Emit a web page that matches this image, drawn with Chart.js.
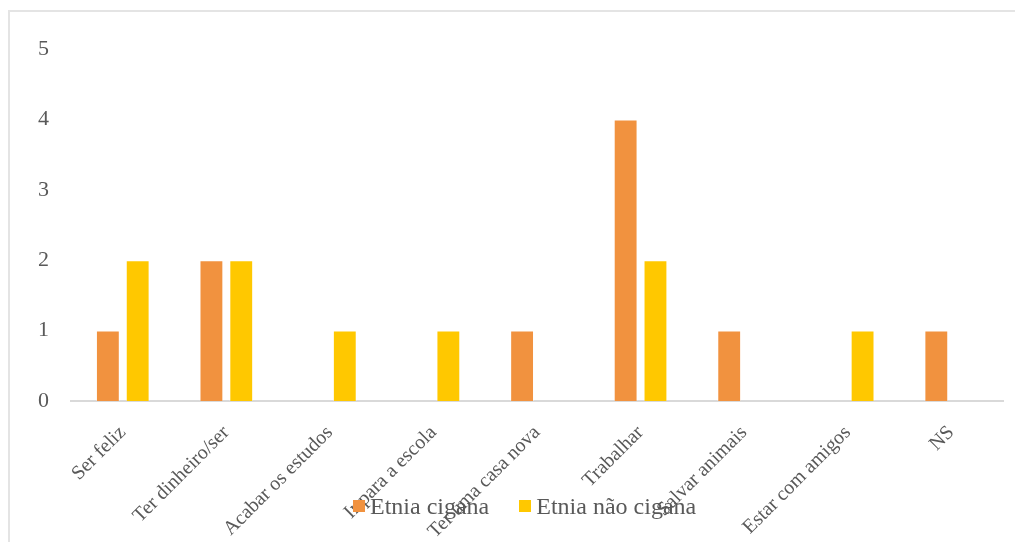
<!DOCTYPE html>
<html>
<head>
<meta charset="utf-8">
<script src="https://cdn.jsdelivr.net/npm/chart.js@4/dist/chart.umd.min.js"></script>
<style>
  body { margin: 0; background: #fff; }
  #wrap { position: relative; width: 1015px; height: 542px; overflow: hidden; }
  #frame {
    position: absolute; left: 8px; top: 10px; width: 1100px; height: 600px;
    border-top: 2px solid #e4e4e4; border-left: 2px solid #e4e4e4;
  }
  #chart { position: absolute; left: 0; top: 0; }
  #legend {
    position: absolute; left: 353px; top: 492px;
    display: flex; align-items: center;
    font-family: "Liberation Serif", "Times New Roman", serif;
    font-size: 24px; color: #595959; line-height: 28px;
  }
  .item { display: flex; align-items: center; margin-right: 30px; }
  .box { width: 12px; height: 12px; margin-right: 5px; }
</style>
</head>
<body>
<div id="wrap">
  <div id="frame"></div>
  <canvas id="chart" width="1015" height="542"></canvas>
  <div id="legend"></div>
</div>
<script>
// categories and values
const categories = [
  "Ser feliz", "Ter dinheiro/ser", "Acabar os estudos", "Ir para a escola",
  "Ter uma casa nova", "Trabalhar", "Salvar animais", "Estar com amigos", "NS"
];
const ciganaValues = [1, 2, 0, 0, 1, 4, 1, 0, 1];
const naoCiganaValues = [2, 2, 1, 1, 0, 2, 0, 1, 0];
const seriesNames = ["Etnia cigana", "Etnia não cigana"];
const yTicks = [0, 1, 2, 3, 4, 5];

const textColor = "#595959";
const serif = "'Liberation Serif', 'Times New Roman', serif";

const chart = new Chart(document.getElementById("chart"), {
  type: "bar",
  data: {
    labels: categories,
    datasets: [
      {
        label: seriesNames[0],
        data: ciganaValues,
        backgroundColor: "#F1923F",
        borderColor: "rgba(255,255,255,0.35)",
        borderWidth: 1,
        categoryPercentage: 0.576,
        barPercentage: 0.8
      },
      {
        label: seriesNames[1],
        data: naoCiganaValues,
        backgroundColor: "#FFC800",
        borderColor: "rgba(255,255,255,0.35)",
        borderWidth: 1,
        categoryPercentage: 0.576,
        barPercentage: 0.8
      }
    ]
  },
  options: {
    responsive: false,
    animation: false,
    layout: { padding: { top: 49, right: 12, bottom: 0, left: 0 } },
    plugins: {
      legend: { display: false },
      tooltip: { enabled: false }
    },
    scales: {
      x: {
        grid: { display: false, drawTicks: false },
        border: { display: true, color: "#d9d9d9", width: 2 },
        ticks: {
          color: textColor,
          font: { family: serif, size: 20 },
          minRotation: 45,
          maxRotation: 45,
          autoSkip: false,
          padding: 20
        },
        afterFit: scale => { scale.height = 141; }
      },
      y: {
        min: yTicks[0],
        max: yTicks[yTicks.length - 1],
        grid: { display: false, drawTicks: false },
        border: { display: false },
        ticks: {
          stepSize: 1,
          color: textColor,
          font: { family: serif, size: 22 },
          padding: 22
        },
        afterFit: scale => { scale.width = 71; }
      }
    }
  }
});

// legend drawn as html so it can sit over the axis labels like in the original
const legend = document.getElementById("legend");
chart.data.datasets.forEach(ds => {
  const item = document.createElement("div");
  item.className = "item";
  item.innerHTML = `<span class="box" style="background:${ds.backgroundColor}"></span><span>${ds.label}</span>`;
  legend.appendChild(item);
});
</script>
</body>
</html>
